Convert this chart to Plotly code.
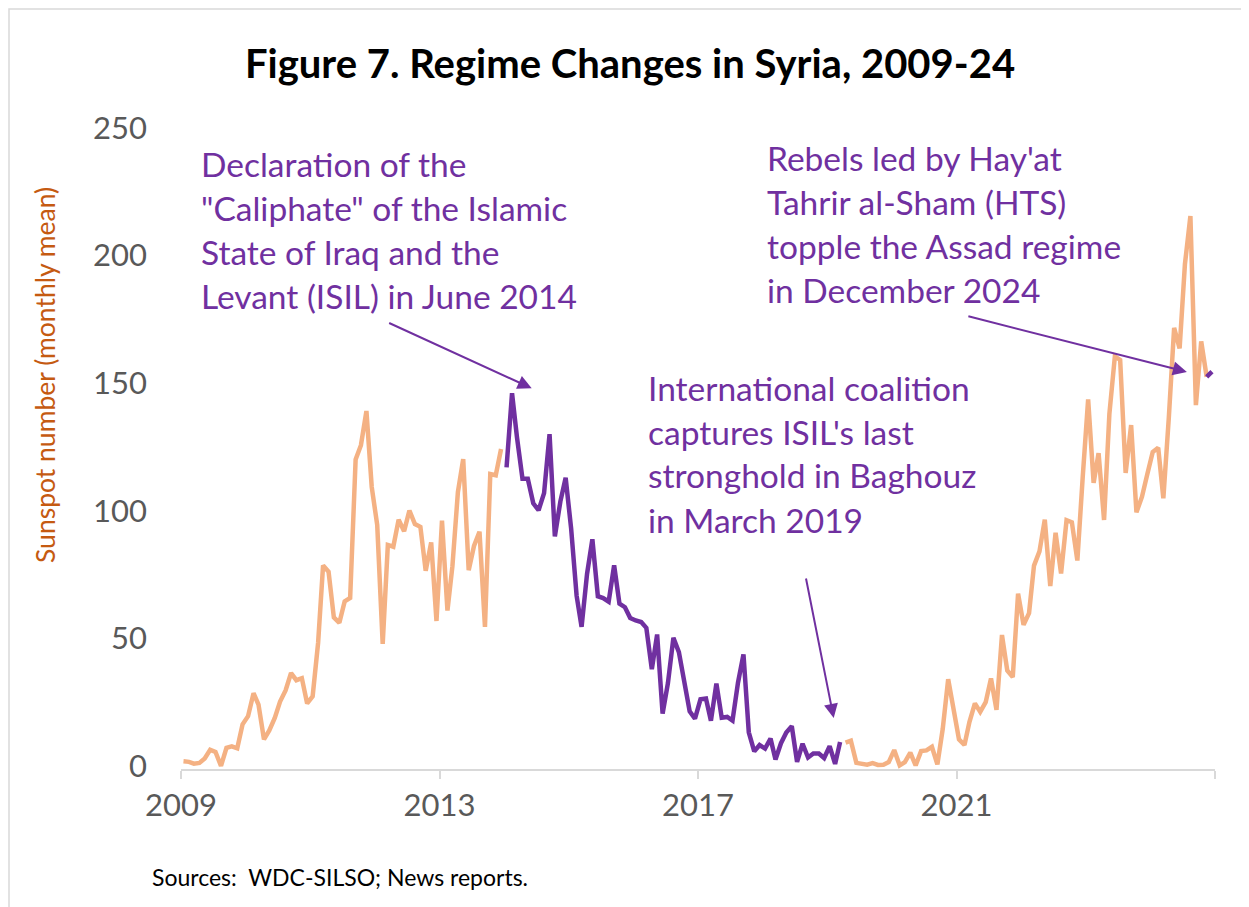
import pandas as pd
import plotly.graph_objects as go

# Monthly mean sunspot number (WDC-SILSO), Jan 2009 - Dec 2024
ssn_2009 = [1.8, 1.6, 0.9, 1.2, 2.9, 6.3, 5.5, 0.0, 7.1, 7.7, 6.9, 16.3]
ssn_2010 = [19.5, 28.5, 24.0, 10.4, 13.9, 18.8, 25.2, 29.6, 36.4, 33.6, 34.4, 24.5]
ssn_2011 = [27.3, 48.3, 78.6, 76.1, 58.2, 56.1, 64.5, 65.8, 120.1, 125.7, 139.1, 109.3]
ssn_2012 = [94.4, 47.8, 86.6, 85.9, 96.5, 92.0, 100.1, 94.8, 93.7, 76.5, 87.6, 56.8]
ssn_2013 = [96.1, 60.9, 78.3, 107.3, 120.2, 76.7, 86.2, 91.8, 54.5, 114.4, 113.9, 124.2]
ssn_2014 = [117.0, 146.1, 128.7, 112.5, 112.5, 102.9, 100.2, 106.9, 130.0, 90.0, 103.6, 112.9]
ssn_2015 = [93.0, 66.7, 54.5, 75.3, 88.8, 66.5, 65.8, 64.4, 78.6, 63.6, 62.2, 58.0]
ssn_2016 = [57.0, 56.4, 54.1, 37.9, 51.5, 20.5, 32.4, 50.2, 44.6, 33.4, 21.4, 18.5]
ssn_2017 = [26.1, 26.4, 17.7, 32.3, 18.9, 19.2, 17.8, 32.6, 43.7, 13.2, 5.7, 8.2]
ssn_2018 = [6.8, 10.7, 2.5, 8.9, 13.1, 15.6, 1.6, 8.7, 3.3, 4.9, 4.9, 3.1]
ssn_2019 = [7.7, 0.8, 9.4, 9.1, 9.9, 1.2, 0.9, 0.5, 1.1, 0.4, 0.5, 1.5]
ssn_2020 = [6.2, 0.2, 1.5, 5.2, 0.2, 5.8, 6.1, 7.5, 0.6, 14.4, 34.0, 21.8]
ssn_2021 = [10.4, 8.2, 17.2, 24.5, 21.2, 25.0, 34.3, 22.0, 51.3, 37.4, 34.8, 67.5]
ssn_2022 = [55.3, 59.9, 78.5, 84.1, 96.5, 70.5, 91.4, 75.4, 96.3, 95.5, 80.5, 112.8]
ssn_2023 = [143.6, 110.9, 122.6, 96.4, 137.9, 160.5, 159.1, 114.8, 133.6, 99.4, 105.4, 114.2]
ssn_2024 = [123.0, 124.7, 104.9, 136.5, 171.7, 163.6, 196.6, 215.5, 141.4, 166.4, 152.5, 154.5]

# highlighted periods (ISIL caliphate era, and the fall of Assad)
isil_start, isil_end = "2014-01-01", "2019-03-31"
hts_start, hts_end = "2024-11-01", "2024-12-31"

year_ticks = ["2009-01-01", "2013-01-01", "2017-01-01", "2021-01-01", "2025-01-01"]
year_labels = ["2009", "2013", "2017", "2021", ""]

note1 = ["Declaration of the", "\"Caliphate\" of the Islamic",
         "State of Iraq and the", "Levant (ISIL) in June 2014"]
note2 = ["International coalition", "captures ISIL's last",
         "stronghold in Baghouz", "in March 2019"]
note3 = ["Rebels led by Hay'at", "Tahrir al-Sham (HTS)",
         "topple the Assad regime", "in December 2024"]

values = (ssn_2009 + ssn_2010 + ssn_2011 + ssn_2012 + ssn_2013 + ssn_2014 + ssn_2015 + ssn_2016
          + ssn_2017 + ssn_2018 + ssn_2019 + ssn_2020 + ssn_2021 + ssn_2022 + ssn_2023 + ssn_2024)
dates = pd.date_range("2009-01-01", "2024-12-01", freq="MS") + pd.Timedelta(days=14)
s = pd.Series(values, index=dates)

in_isil = (s.index >= isil_start) & (s.index <= isil_end)
in_hts = (s.index >= hts_start) & (s.index <= hts_end)
orange = s.where(~in_isil & ~(s.index > "2024-12-01"))
purple = s.where(in_isil | in_hts)

ORANGE = "#F4B183"
PURPLE = "#7030A0"
FONT = "Lato"

fig = go.Figure()
fig.add_trace(go.Scatter(x=orange.index, y=orange.values, mode="lines",
                         line=dict(color=ORANGE, width=4.5), connectgaps=False))
fig.add_trace(go.Scatter(x=purple.index, y=purple.values, mode="lines",
                         line=dict(color=PURPLE, width=4.5), connectgaps=False))

# page puts the figure 8px in from the top-left corner, so size it to fit the window
OFF = 8
W, H = 1249 - OFF, 907 - OFF
# plot area in window pixels
left, right, top, bottom = 181, 1215, 128, 769
L, R, T, B = left - OFF, W - (right - OFF), top - OFF, H - (bottom - OFF)
pw, ph = W - L - R, H - T - B


def px(x):
    return (x - OFF - L) / pw


def py(y):
    return (H - B - (y - OFF)) / ph


annotations = []
for lines, x0, y0 in [(note1, 199, 164), (note2, 646, 387.5), (note3, 765, 158)]:
    for i, t in enumerate(lines):
        annotations.append(dict(text=t, xref="paper", yref="paper", x=px(x0), y=py(y0 + 44 * i),
                                xanchor="left", yanchor="middle", showarrow=False,
                                font=dict(family=FONT, size=33.5, color=PURPLE)))

# arrows
for hx, hy, ax, ay in [("2014-06-06", 148, -144, -66),
                       ("2019-02-07", 18.8, -28, -141),
                       ("2024-07-26", 154.4, -220, -56)]:
    annotations.append(dict(text="", x=hx, y=hy, xref="x", yref="y", ax=ax, ay=ay,
                            showarrow=True, arrowhead=2, arrowsize=1.4, arrowwidth=2,
                            arrowcolor=PURPLE, standoff=0))

annotations.append(dict(text="Sunspot number (monthly mean)", xref="paper", yref="paper",
                        x=px(45), y=py(375), textangle=-90, showarrow=False,
                        xanchor="center", yanchor="middle",
                        font=dict(family=FONT, size=26.5, color="#C55A11")))
annotations.append(dict(text="Sources:  WDC-SILSO; News reports.", xref="paper", yref="paper",
                        x=px(150), y=py(877), showarrow=False, xanchor="left", yanchor="middle",
                        font=dict(family=FONT, size=23, color="black")))

fig.update_layout(
    width=W, height=H,
    margin=dict(l=L, r=R, t=T, b=B),
    paper_bgcolor="white", plot_bgcolor="white",
    showlegend=False,
    title=dict(text="<b>Figure 7. Regime Changes in Syria, 2009-24</b>",
               x=(630 - OFF) / W, xanchor="center", y=1 - (64 - OFF) / H, yanchor="middle",
               font=dict(family=FONT, size=40, color="black")),
    annotations=annotations,
    shapes=[dict(type="rect", xref="paper", yref="paper", x0=px(9), y0=py(1000),
                 x1=px(1300), y1=py(9), line=dict(color="#D9D9D9", width=1.5))],
)
fig.update_xaxes(type="date", range=["2009-01-01", "2025-01-01"],
                 tickvals=year_ticks, ticktext=year_labels,
                 ticks="outside", ticklen=8, tickwidth=1.5, tickcolor="#D9D9D9",
                 showline=True, linecolor="#D9D9D9", linewidth=1.5, showgrid=False, zeroline=False,
                 tickfont=dict(family=FONT, size=31, color="#595959"))
fig.update_yaxes(range=[-1.2, 250], tickvals=[0, 50, 100, 150, 200, 250],
                 showgrid=False, zeroline=False, showline=False, ticks="",
                 ticklabelstandoff=33,
                 tickfont=dict(family=FONT, size=31, color="#595959"))

fig.write_html("out.html")
